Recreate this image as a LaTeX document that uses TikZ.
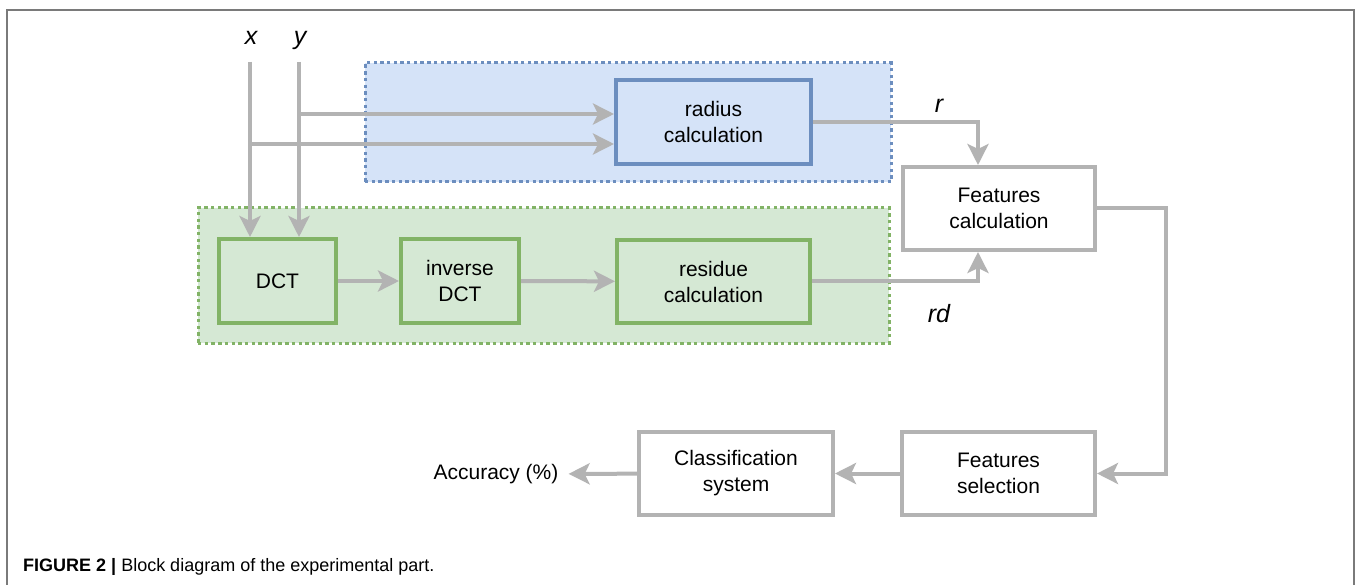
\documentclass[tikz,border=0pt]{standalone}
\usepackage{fontspec}
\setmainfont{Liberation Sans}
\usetikzlibrary{arrows.meta}
\definecolor{lgray}{HTML}{B3B3B3}
\definecolor{bfill}{HTML}{D5E3F8}
\definecolor{bline}{HTML}{6C8EBF}
\definecolor{gfill}{HTML}{D5E8D4}
\definecolor{gline}{HTML}{82B366}
\definecolor{framec}{HTML}{7A7A7A}
\begin{document}
\begin{tikzpicture}[x=1pt,y=-1pt,
  boxtext/.style={align=center, inner sep=0pt, font=\fontsize{21}{26}\selectfont},
  graybox/.style={boxtext, draw=lgray, line width=4pt, fill=white},
  greenbox/.style={boxtext, draw=gline, line width=4pt, fill=gfill},
  bluebox/.style={boxtext, draw=bline, line width=4pt, fill=bfill},
  region/.style={line width=3pt, dash pattern=on 3.4pt off 3.3pt, inner sep=0pt},
  conn/.style={draw=lgray, line width=4pt, -{Stealth[length=21pt,width=21pt,inset=5pt]}},
  varlabel/.style={anchor=base, inner sep=0pt, font=\fontsize{25}{30}\selectfont\itshape}
]
\useasboundingbox (0,0) rectangle (1357,585);
\fill[white] (0,0) rectangle (1357,585);
% frame
\draw[framec, line width=2pt] (7,585) -- (7,10) -- (1354,10) -- (1354,585);

% regions
\node[region, draw=bline, fill=bfill, minimum width=526pt, minimum height=119pt] (blue) at (628,122.5) {};
\node[region, draw=gline, fill=gfill, minimum width=691pt, minimum height=135pt] (green) at (543.5,275.5) {};

% boxes
\node[greenbox, minimum width=117pt, minimum height=84pt] (dct) at (277.5,281) {DCT};
\node[greenbox, minimum width=118pt, minimum height=84pt] (idct) at (460,281) {inverse\\DCT};
\node[greenbox, minimum width=193pt, minimum height=83pt] (res) at (713.5,281.5) {residue\\calculation};
\node[bluebox, minimum width=195pt, minimum height=84pt] (rad) at (713.5,122) {radius\\calculation};
\node[graybox, minimum width=192pt, minimum height=83pt] (featc) at (999,208.5) {Features\\calculation};
\node[graybox, minimum width=193pt, minimum height=83pt] (feats) at (998.5,473.5) {Features\\selection};
\node[graybox, minimum width=194pt, minimum height=83pt] (cls) at (736,473.5) {Classification\\system};
\node[boxtext, inner xsep=10pt] (acc) at (496,474) {Accuracy (\%)};

% labels
\node[varlabel] (xl) at (251,45) {x};
\node[varlabel] (yl) at (300,45) {y};
\node[varlabel] (rl) at (939,113) {r};
\node[varlabel] (rdl) at (939,322) {rd};

% coordinates
\coordinate (xs) at (250,62);
\coordinate (ys) at (299,62);
\coordinate (yb) at (299,114);
\coordinate (xb) at (250,144);
\coordinate (fin) at (978,0);
\coordinate (fout) at (1166,0);

% connectors
\draw[conn] (yb) -- (yb -| rad.west);
\draw[conn] (xb) -- (xb -| rad.west);
\draw[conn] (xs) -- (xs |- dct.north);
\draw[conn] (ys) -- (ys |- dct.north);
\draw[conn] (dct) -- (idct);
\draw[conn] (idct) -- (res);
\draw[conn] (rad.east) -| (fin |- featc.north);
\draw[conn] (res.east) -| (fin |- featc.south);
\draw[conn] (featc.east) -- (featc.east -| fout) |- (feats.east);
\draw[conn] (feats) -- (cls);
\draw[conn] (cls) -- (acc);

% caption
\node[anchor=base west, inner sep=0pt, font=\fontsize{18}{21}\selectfont] (cap) at (23,571) {\textbf{FIGURE 2 |} Block diagram of the experimental part.};
\end{tikzpicture}
\end{document}
